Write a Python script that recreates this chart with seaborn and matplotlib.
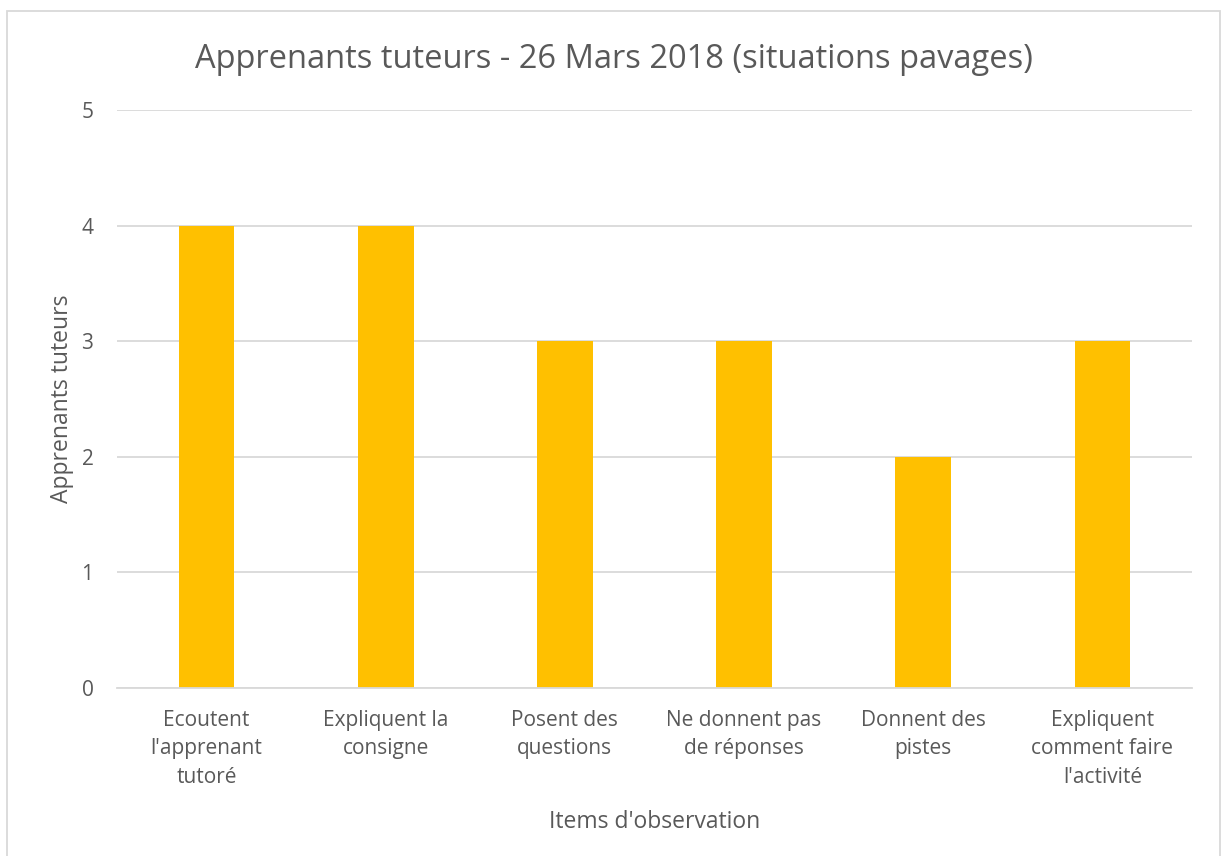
import matplotlib
matplotlib.use("Agg")
import matplotlib.pyplot as plt
import seaborn as sns
import pandas as pd
from matplotlib.patches import Rectangle

categories = ["Ecoutent\nl'apprenant\ntutoré", "Expliquent la\nconsigne", "Posent des\nquestions",
              "Ne donnent pas\nde réponses", "Donnent des\npistes", "Expliquent\ncomment faire\nl'activité"]
values = [4, 4, 3, 3, 2, 3]
yticks = [0, 1, 2, 3, 4, 5]

title = "Apprenants tuteurs - 26 Mars 2018 (situations pavages)"
xlabel = "Items d'observation"
ylabel = "Apprenants tuteurs"

sns.set_style("white")
plt.rcParams['font.family'] = ['Open Sans', 'DejaVu Sans']
txt = "#595959"
grid = "#D9D9D9"

fig = plt.figure(figsize=(12.23, 8.56), dpi=100)
ax = fig.add_axes([117/1223, 1-688/856, (1192-117)/1223, (688-110)/856])

df = pd.DataFrame({"cat": categories, "val": values})
sns.barplot(data=df, x="cat", y="val", color="#FFC000", saturation=1, width=0.31,
            linewidth=0, edgecolor="none", ax=ax)

ax.set_ylim(0, 5)
ax.set_xlim(-0.5, len(categories) - 0.5)
ax.set_yticks(yticks)
ax.set_yticklabels([str(t) for t in yticks])
ax.yaxis.grid(True, color=grid, linewidth=1.3)
ax.set_axisbelow(True)
for s in ["top", "right", "left"]:
    ax.spines[s].set_visible(False)
ax.spines["bottom"].set_color(grid)
ax.spines["bottom"].set_linewidth(1.3)
ax.tick_params(axis="both", length=0, colors=txt, labelsize=15)
ax.tick_params(axis="x", pad=16)
ax.tick_params(axis="y", pad=17)
for lab in ax.get_xticklabels():
    lab.set_linespacing(1.45)

ax.set_xlabel(xlabel, fontsize=16.5, color=txt, labelpad=16)
ax.set_ylabel(ylabel, fontsize=16.5, color=txt, labelpad=5)
fig.text(614/1223, 1-59/856, title, ha="center", va="center", fontsize=23.5, color=txt)

fig.patches.append(Rectangle((7/1223, -0.01), (1220-7)/1223, 1-11/856+0.01, transform=fig.transFigure,
                             fill=False, edgecolor=grid, linewidth=1.3))

fig.savefig("out.png", dpi=100)
